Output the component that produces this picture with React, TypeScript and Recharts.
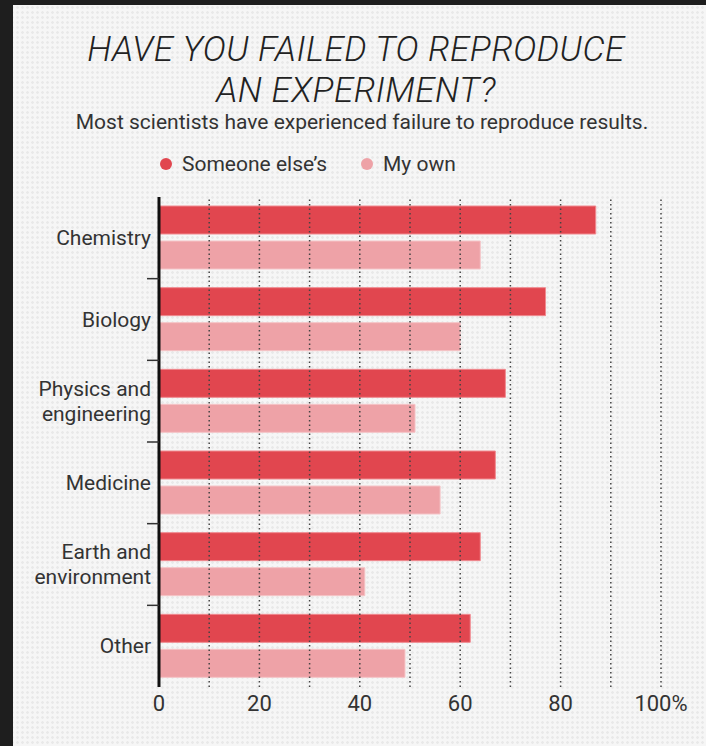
import {
  BarChart,
  Bar,
  XAxis,
  YAxis,
  ReferenceLine,
  Legend,
} from 'recharts';

const CATEGORIES = [
  'Chemistry',
  'Biology',
  'Physics and\nengineering',
  'Medicine',
  'Earth and\nenvironment',
  'Other',
];
const SOMEONE_ELSES = [87, 77, 69, 67, 64, 62];
const MY_OWN = [64, 60, 51, 56, 41, 49];
const X_TICKS = [0, 20, 40, 60, 80, 100];
const GRID_LINES = [10, 20, 30, 40, 50, 60, 70, 80, 90, 100];

const DARK = '#e1464f';
const LIGHT = '#eea2a7';
const TEXT = '#333';
const FONT = 'Roboto, "Noto Sans", sans-serif';

const W = 706;
const H = 746;
const MARGIN = { top: 197, right: 45, bottom: 29, left: 13 };
const X_AXIS_H = 30;
const BAND = (H - MARGIN.top - MARGIN.bottom - X_AXIS_H) / CATEGORIES.length;

const data = CATEGORIES.map((name, i) => ({
  name,
  someone: SOMEONE_ELSES[i],
  own: MY_OWN[i],
}));

// category label (one or two lines) plus the small separator tick above it
function CategoryTick({ x, y, payload, index }: any) {
  const lines = String(payload.value).split('\n');
  const lh = 25;
  const start = y - ((lines.length - 1) * lh) / 2;
  const axisX = x + 8;
  return (
    <g>
      {index > 0 && (
        <line
          x1={axisX - 12}
          x2={axisX}
          y1={y - BAND / 2}
          y2={y - BAND / 2}
          stroke="#333"
          strokeWidth={1.5}
        />
      )}
      <text
        x={x}
        y={start}
        textAnchor="end"
        dominantBaseline="central"
        fill={TEXT}
        fontSize={21}
        fontFamily={FONT}
      >
        {lines.map((l, i) => (
          <tspan key={i} x={x} y={start + i * lh}>
            {l}
          </tspan>
        ))}
      </text>
    </g>
  );
}

function LegendContent() {
  const items = [
    { label: 'Someone else\u2019s', color: DARK, left: 160 },
    { label: 'My own', color: LIGHT, left: 361 },
  ];
  return (
    <div style={{ position: 'relative', height: 0 }}>
      {items.map((it) => (
        <div
          key={it.label}
          style={{
            position: 'absolute',
            left: it.left,
            top: 0,
            display: 'flex',
            alignItems: 'center',
            fontFamily: FONT,
            fontSize: 21,
            color: TEXT,
            whiteSpace: 'nowrap',
          }}
        >
          <span
            style={{
              width: 12,
              height: 12,
              borderRadius: 6,
              background: it.color,
              marginRight: 10,
              display: 'inline-block',
            }}
          />
          {it.label}
        </div>
      ))}
    </div>
  );
}

export default function App() {
  return (
    <div
      style={{
        position: 'absolute',
        left: 0,
        top: 0,
        width: W,
        height: H,
        backgroundColor: '#f6f6f6',
        backgroundImage:
          'radial-gradient(circle, #e9e9e9 1px, transparent 1.6px)',
        backgroundSize: '5px 5px',
        overflow: 'hidden',
      }}
    >
      <div style={{ position: 'absolute', left: 0, top: 0, width: W, height: 5, background: '#1e1e1e' }} />
      <div style={{ position: 'absolute', left: 0, top: 0, width: 13, height: H, background: '#1e1e1e' }} />
      <div
        style={{
          position: 'absolute',
          left: 0,
          top: 29,
          width: 712,
          textAlign: 'center',
          fontFamily: FONT,
          fontStyle: 'italic',
          fontWeight: 300,
          fontSize: 35,
          lineHeight: '41px',
          letterSpacing: 0.5,
          color: '#222',
        }}
      >
        HAVE YOU FAILED TO REPRODUCE
        <br />
        AN EXPERIMENT?
      </div>
      <div
        style={{
          position: 'absolute',
          left: 0,
          top: 110,
          width: 724,
          textAlign: 'center',
          fontFamily: FONT,
          fontSize: 21,
          color: TEXT,
        }}
      >
        Most scientists have experienced failure to reproduce results.
      </div>
      <div style={{ position: 'absolute', left: 0, top: 0 }}>
        <BarChart
          width={W}
          height={H}
          data={data}
          layout="vertical"
          margin={MARGIN}
          barCategoryGap={9}
          barGap={7}
        >
          <XAxis
            type="number"
            domain={[0, 100]}
            ticks={X_TICKS}
            tickFormatter={(v: number) => (v === 100 ? '100%' : String(v))}
            axisLine={false}
            tickLine={false}
            tick={{ fill: TEXT, fontSize: 22, fontFamily: FONT }}
            height={X_AXIS_H}
          />
          <YAxis
            type="category"
            dataKey="name"
            width={146}
            axisLine={{ stroke: '#111', strokeWidth: 3 }}
            tickLine={false}
            tick={<CategoryTick />}
          />
          <Legend
            verticalAlign="top"
            content={<LegendContent />}
            wrapperStyle={{ top: 152, left: 0, width: W }}
          />
          <Bar
            dataKey="someone"
            name="Someone else's"
            fill={DARK}
            stroke="#f08a90"
            strokeWidth={1}
            isAnimationActive={false}
          />
          <Bar
            dataKey="own"
            name="My own"
            fill={LIGHT}
            stroke="#f5c4c7"
            strokeWidth={1}
            isAnimationActive={false}
          />
          {GRID_LINES.map((v) => (
            <ReferenceLine
              key={v}
              x={v}
              stroke="#444"
              strokeWidth={1.5}
              strokeDasharray="1.5 3"
            />
          ))}
        </BarChart>
      </div>
    </div>
  );
}
